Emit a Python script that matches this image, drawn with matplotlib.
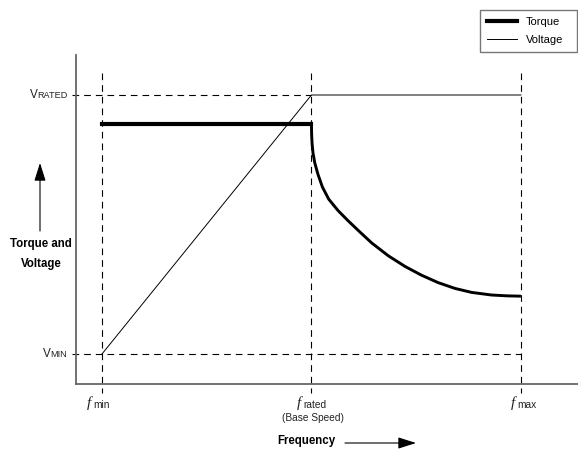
"""Torque / voltage vs frequency sketch (V/f control)."""
import matplotlib
matplotlib.use("Agg")
import matplotlib.pyplot as plt

W, H = 578, 451

# ── Data (frequency units: fmin=1, frated=5, fmax=9; volts: Vmin=1, Vrated=10)
F_MIN, F_RATED, F_MAX = 1.0, 5.0, 9.0
V_MIN, V_RATED = 1.0, 10.0

volt_f = [F_MIN, F_RATED, F_MAX]
volt_v = [V_MIN, V_RATED, V_RATED]

# constant torque region
flat_f = [1.0, 5.0]
flat_t = [9.0, 9.0]

# field weakening region
curve_f = [5.00, 5.003, 5.012, 5.03, 5.065, 5.125, 5.21, 5.33, 5.51, 5.70,
           5.89, 6.15, 6.47, 6.79, 7.10, 7.42, 7.74, 8.06, 8.44, 8.75, 9.0]
curve_t = [9.05, 8.65, 8.32, 7.98, 7.63, 7.24, 6.80, 6.38, 5.98, 5.63,
           5.30, 4.86, 4.41, 4.04, 3.74, 3.48, 3.28, 3.14, 3.05, 3.02, 3.01]

AXIS_C = "#666666"
TXT_C = "#222222"
FONT = "Liberation Sans"


def px(x, y):
    """figure pixels (top-left origin) -> figure fraction"""
    return x / W, 1 - y / H


fig = plt.figure(figsize=(W / 100, H / 100), dpi=100, facecolor="white")
ax = fig.add_axes([76 / W, 67 / H, 1 - 76 / W, 329 / H])
ax.set_xlim(0.504, 10.09)
ax.set_ylim(-0.042, 11.39)
for s in ["top", "right"]:
    ax.spines[s].set_visible(False)
for s in ["left", "bottom"]:
    ax.spines[s].set_color(AXIS_C)
    ax.spines[s].set_linewidth(1.3)
ax.set_xticks([])
ax.set_yticks([])

# reference dashed lines
dash = dict(color="black", lw=0.8, dashes=(6, 4.5), clip_on=False, zorder=1)
for f in [F_MIN, F_RATED, F_MAX]:
    ax.plot([f, f], [10.76, -0.36], **dash)
ax.plot([0.43, F_RATED], [V_RATED, V_RATED], **dash)
ax.plot([0.43, F_MAX], [V_MIN, V_MIN], **dash)

# curves
l_t, = ax.plot(flat_f, flat_t, color="black", lw=3.0, zorder=3,
               solid_capstyle="projecting", label="Torque")
ax.plot(curve_f, curve_t, color="black", lw=2.1, zorder=3,
        solid_joinstyle="round", solid_capstyle="butt")
l_v, = ax.plot(volt_f, volt_v, color="black", lw=0.7, zorder=2,
               label="Voltage")

# legend
x0, y0 = px(480, 55)
x1, y1 = px(577, 10)
leg = fig.legend(handles=[l_t, l_v], loc="upper left",
                 bbox_to_anchor=(x0, y0, x1 - x0, y1 - y0), mode="expand",
                 frameon=True, fancybox=False,
                 prop={"family": FONT, "size": 8}, handlelength=2.7,
                 handletextpad=0.85, borderpad=0.6, labelspacing=0.75,
                 borderaxespad=0)
leg.get_frame().set_edgecolor("#555555")
leg.get_frame().set_linewidth(1.0)

# y tick labels (small caps style)
fig.text(*px(30, 95), "V", fontsize=8.5, family=FONT, va="center", color=TXT_C)
fig.text(*px(37.5, 95.5), "RATED", fontsize=6.6, family=FONT, va="center", color=TXT_C)
fig.text(*px(43, 354), "V", fontsize=8.5, family=FONT, va="center", color=TXT_C)
fig.text(*px(50.5, 354.5), "MIN", fontsize=6.6, family=FONT, va="center", color=TXT_C)

# x tick labels
for xf, sub in [(87, "min"), (297, "rated"), (511, "max")]:
    fig.text(*px(xf, 403), "f", fontsize=11, family="Liberation Serif",
             style="italic", va="center", color=TXT_C)
    fig.text(*px(xf + 6, 405), sub, fontsize=7.3, family=FONT,
             va="center", color=TXT_C)
fig.text(*px(313, 418), "(Base Speed)", fontsize=7.3, family=FONT,
         ha="center", va="center", color=TXT_C)

# axis titles + arrows
fig.text(*px(306, 441), "Frequency", fontsize=8.3, family=FONT,
         fontweight="bold", ha="center", va="center")
fig.text(*px(41, 254), "Torque and\nVoltage", fontsize=8.3, family=FONT,
         fontweight="bold", ha="center", va="center", linespacing=2.0)
arrow = dict(arrowstyle="-|>,head_length=1.1,head_width=0.35", lw=0.8,
             color="black", shrinkA=0, shrinkB=0)
ax.annotate("", xy=px(416, 443), xytext=px(345, 443),
            xycoords="figure fraction", textcoords="figure fraction",
            arrowprops=arrow)
ax.annotate("", xy=px(40, 163), xytext=px(40, 231),
            xycoords="figure fraction", textcoords="figure fraction",
            arrowprops=arrow)

fig.savefig("out.png", dpi=100, facecolor="white")
